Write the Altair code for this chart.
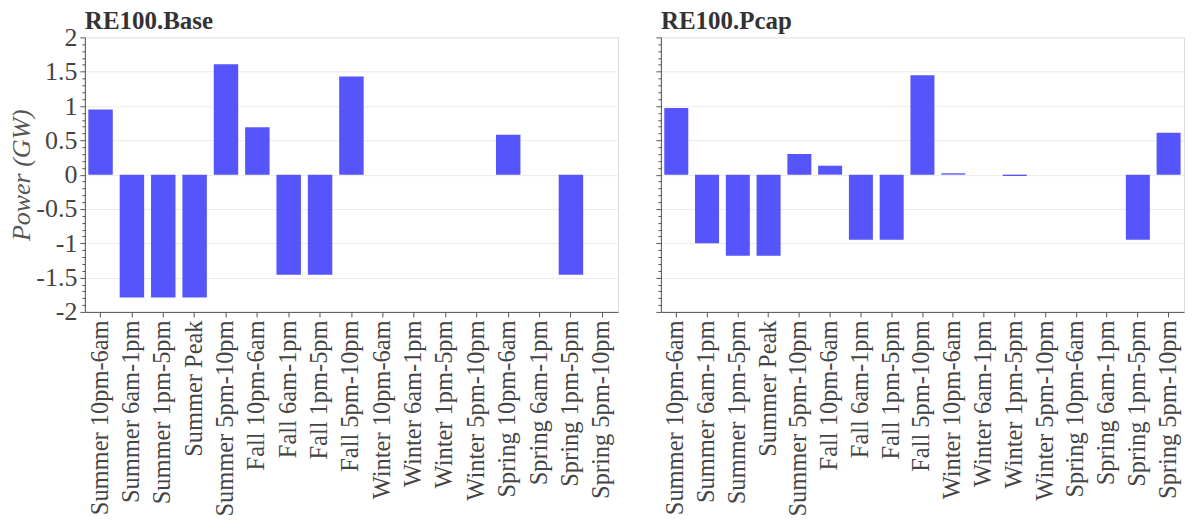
import altair as alt
import pandas as pd

categories = [
    "Summer 10pm-6am", "Summer 6am-1pm", "Summer 1pm-5pm", "Summer Peak",
    "Summer 5pm-10pm", "Fall 10pm-6am", "Fall 6am-1pm", "Fall 1pm-5pm",
    "Fall 5pm-10pm", "Winter 10pm-6am", "Winter 6am-1pm", "Winter 1pm-5pm",
    "Winter 5pm-10pm", "Spring 10pm-6am", "Spring 6am-1pm", "Spring 1pm-5pm",
    "Spring 5pm-10pm",
]
base_values = [0.95, -1.79, -1.79, -1.79, 1.61, 0.69, -1.46, -1.46, 1.43,
               0.0, 0.0, 0.0, 0.0, 0.58, 0.0, -1.46, 0.0]
pcap_values = [0.97, -1.0, -1.18, -1.18, 0.30, 0.13, -0.95, -0.95, 1.45,
               0.02, 0.0, -0.02, 0.0, 0.0, 0.0, -0.95, 0.61]

FONT = "Liberation Serif"
BAR = "#5555fb"
tick_vals = [round(-2 + 0.1 * i, 1) for i in range(41)]
major_test = "abs(datum.value * 2 - round(datum.value * 2)) < 0.001"


def panel(values, title, show_labels, title_offset, width):
    df = pd.DataFrame({"cat": categories, "val": values})
    yaxis = alt.Axis(
        values=tick_vals,
        labelExpr=("abs(datum.value * 2 - round(datum.value * 2)) < 0.001 ? "
                   "((datum.value < 0 ? '-' : '') + format(abs(datum.value), '~g')) : ''")
        if show_labels else "''",
        labels=show_labels,
        labelOverlap=False,
        labelFont=FONT, labelFontSize=26, labelColor="#444",
        labelPadding=3,
        title="Power (GW)" if show_labels else None,
        titleFont=FONT, titleFontSize=26, titleFontStyle="italic",
        titleFontWeight="normal", titleColor="#555", titlePadding=1,
        tickSize={"condition": {"test": major_test, "value": 5}, "value": 3},
        tickColor="#555",
        gridOpacity={"condition": {"test": major_test, "value": 1}, "value": 0},
        gridColor="#ebebeb",
        domainColor="#555",
    )
    xaxis = alt.Axis(
        title=None, labelAngle=270, labelFont=FONT, labelFontSize=24.5,
        labelColor="#444", labelPadding=3, tickSize=5, tickColor="#555",
        domainColor="#555", gridColor="#ebebeb", labelOverlap=False,
        labelLimit=400,
    )
    return alt.Chart(df).mark_bar(color=BAR).encode(
        x=alt.X("cat:N", sort=categories, axis=xaxis,
                scale=alt.Scale(paddingInner=0.22, paddingOuter=0.11)),
        y=alt.Y("val:Q", axis=yaxis,
                scale=alt.Scale(domain=[-2, 2], nice=False, zero=False)),
    ).properties(
        width=width, height=275,
        title=alt.TitleParams(title, anchor="start", frame="group", font=FONT,
                              fontSize=25, fontWeight="bold", color="#333",
                              offset=title_offset),
    )


chart = alt.hconcat(
    panel(base_values, "RE100.Base", True, -10, 534),
    panel(pcap_values, "RE100.Pcap", False, 3, 524),
    spacing=36,
).configure_view(stroke="#ebebeb").configure(
    padding={"left": 0, "top": 0, "right": 0, "bottom": 0})

chart.save("out.html", embed_options={"renderer": "svg", "actions": False})
